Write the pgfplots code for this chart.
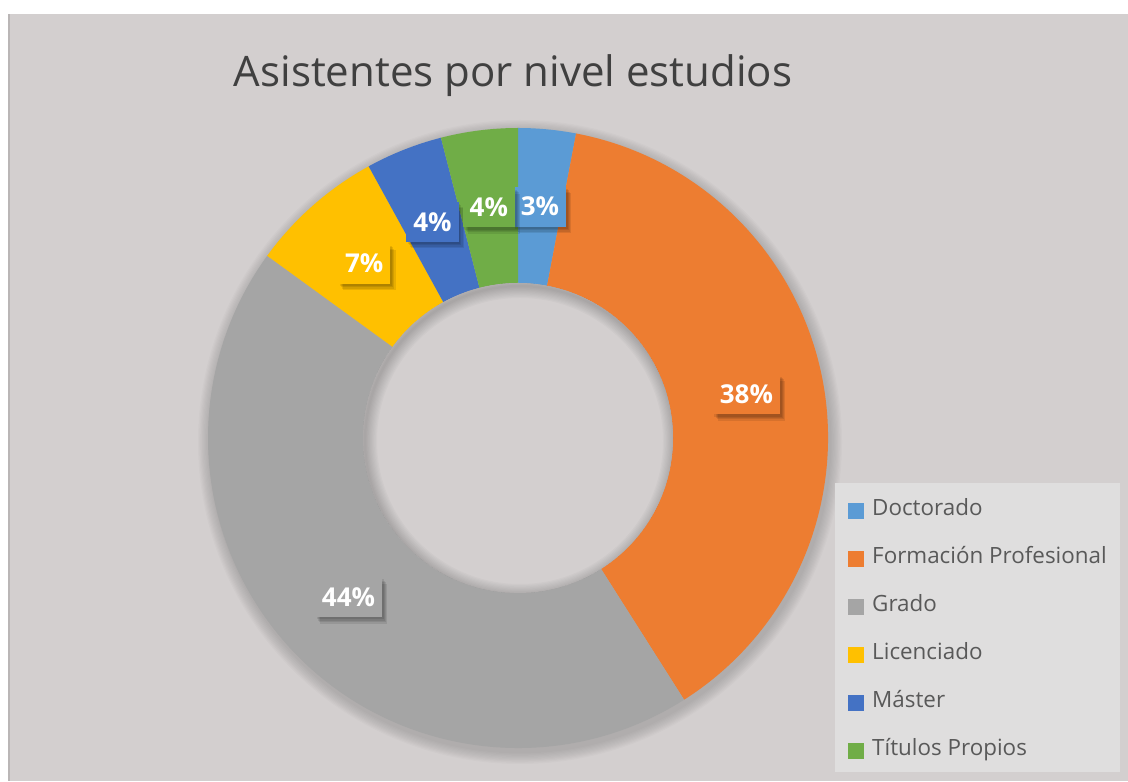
\documentclass[border=0pt]{standalone}
\usepackage{pgfplots}
\pgfplotsset{compat=1.18}
\usepackage{pgfplotstable}
\usepackage{fontspec}
\setmainfont{Open Sans}

\definecolor{cDoc}{HTML}{5B9BD5}
\definecolor{cFP}{HTML}{ED7D31}
\definecolor{cGra}{HTML}{A5A5A5}
\definecolor{cLic}{HTML}{FFC000}
\definecolor{cMas}{HTML}{4472C4}
\definecolor{cTit}{HTML}{70AD47}
\definecolor{bgGray}{RGB}{211,207,207}
\definecolor{bgEdge}{RGB}{186,182,182}
\definecolor{legGray}{RGB}{223,222,222}
\definecolor{txtGray}{HTML}{595959}
\definecolor{titGray}{HTML}{404040}

\tikzset{
  shd/.style 2 args={preaction={fill=black, opacity=0.09,
      transform canvas={xshift=#1, yshift=#2}}},
  lbl/.style={text=white, font=\fontsize{13}{15}\selectfont\bfseries,
    inner xsep=3.5pt, inner ysep=0pt, minimum height=20pt,
    shd={2.6pt}{-3.2pt}, shd={2pt}{-2.5pt}, shd={1.4pt}{-1.8pt}, shd={0.8pt}{-1.1pt}}}

% percentages per nivel de estudios, clockwise from 12 o'clock
\pgfplotstableread[col sep=comma]{
pct,col
3,cDoc
38,cFP
44,cGra
7,cLic
4,cMas
4,cTit
}\niveles

% donut geometry in picture pixels (1 px = 0.5pt)
\def\cx{518}
\def\cy{343}
\def\Rout{310}
\def\Rin{155}

\begin{document}
\begin{tikzpicture}
\begin{axis}[
  name=donut,
  x=0.5pt, y=0.5pt,
  xmin=0, xmax=1128, ymin=0, ymax=781,
  hide axis, clip=false,
  legend image code/.code={\fill[#1] (0pt,-3.75pt) rectangle (7.5pt,3.75pt);},
  legend cell align=left,
  legend style={at={(axis cs:848,282)}, anchor=north west, draw=none, fill=none,
    font=\fontsize{11.2}{13}\selectfont, text=txtGray, row sep=13pt, column sep=4pt,
    inner sep=0pt, nodes={inner sep=0pt, text height=8pt, text depth=3pt}},
]
% full page, white strip on top
\path[fill=white] (axis cs:0,0) rectangle (axis cs:1128,781);
\fill[bgGray] (axis cs:8,0) rectangle (axis cs:1128,767);
\fill[bgEdge] (axis cs:8,0) rectangle (axis cs:10,767);

% soft shadow of the ring
\pgfplotsforeachungrouped \k in {1,...,10}{
  \edef\temp{\noexpand\fill[black, opacity=0.014] (axis cs:\cx+2,\cy-4) circle[radius=\Rout*0.5pt+\k*0.6pt];}
  \temp
}

% segments
\def\cum{0}
\pgfplotsforeachungrouped \i in {0,...,5}{
  \pgfplotstablegetelem{\i}{pct}\of\niveles \let\segval\pgfplotsretval
  \pgfplotstablegetelem{\i}{col}\of\niveles \let\segcol\pgfplotsretval
  \pgfmathsetmacro{\aA}{90-3.6*\cum}
  \pgfmathsetmacro{\aB}{90-3.6*(\cum+\segval)}
  \edef\temp{\noexpand\fill[\segcol]
    (axis cs:{\cx+\Rout*cos(\aA)},{\cy+\Rout*sin(\aA)})
    arc[start angle=\aA, end angle=\aB, radius=\Rout*0.5pt]
    -- (axis cs:{\cx+\Rin*cos(\aB)},{\cy+\Rin*sin(\aB)})
    arc[start angle=\aB, end angle=\aA, radius=\Rin*0.5pt] -- cycle;}
  \temp
  \pgfmathsetmacro{\cum}{\cum+\segval}
}

% hole with inner shadow
\edef\temp{\noexpand\fill[bgGray] (axis cs:\cx,\cy) circle[radius=\Rin*0.5pt];}
\temp
\begin{scope}
\edef\temp{\noexpand\clip (axis cs:\cx,\cy) circle[radius=\Rin*0.5pt];}
\temp
\pgfplotsforeachungrouped \k in {1,...,10}{
  \edef\temp{\noexpand\draw[black, opacity=0.018, line width=\k*1.2pt] (axis cs:\cx+2,\cy-3) circle[radius=\Rin*0.5pt];}
  \temp
}
\end{scope}

% data labels
\def\cum{0}
\pgfplotsforeachungrouped \i in {0,...,5}{
  \pgfplotstablegetelem{\i}{pct}\of\niveles \let\segval\pgfplotsretval
  \pgfplotstablegetelem{\i}{col}\of\niveles \let\segcol\pgfplotsretval
  \pgfmathsetmacro{\aM}{90-3.6*(\cum+\segval/2)}
  \pgfmathsetmacro{\Rmid}{(\Rout+\Rin)/2}
  \edef\temp{\noexpand\node[lbl, fill=\segcol]
    at (axis cs:{\cx+\Rmid*cos(\aM)},{\cy+\Rmid*sin(\aM)}) {\segval\%};}
  \temp
  \pgfmathsetmacro{\cum}{\cum+\segval}
}

% title
\node[anchor=base, text=titGray, font=\fontsize{21}{25}\selectfont]
  at (axis cs:513,694) {Asistentes por nivel estudios};

% legend
\fill[legGray] (axis cs:835,298) rectangle (axis cs:1120,9);
\addlegendimage{cDoc}\addlegendentry{Doctorado}
\addlegendimage{cFP}\addlegendentry{Formación Profesional}
\addlegendimage{cGra}\addlegendentry{Grado}
\addlegendimage{cLic}\addlegendentry{Licenciado}
\addlegendimage{cMas}\addlegendentry{Máster}
\addlegendimage{cTit}\addlegendentry{Títulos Propios}
\end{axis}
\pgfresetboundingbox
\useasboundingbox (donut.south west) rectangle (donut.north east);
\end{tikzpicture}
\end{document}
